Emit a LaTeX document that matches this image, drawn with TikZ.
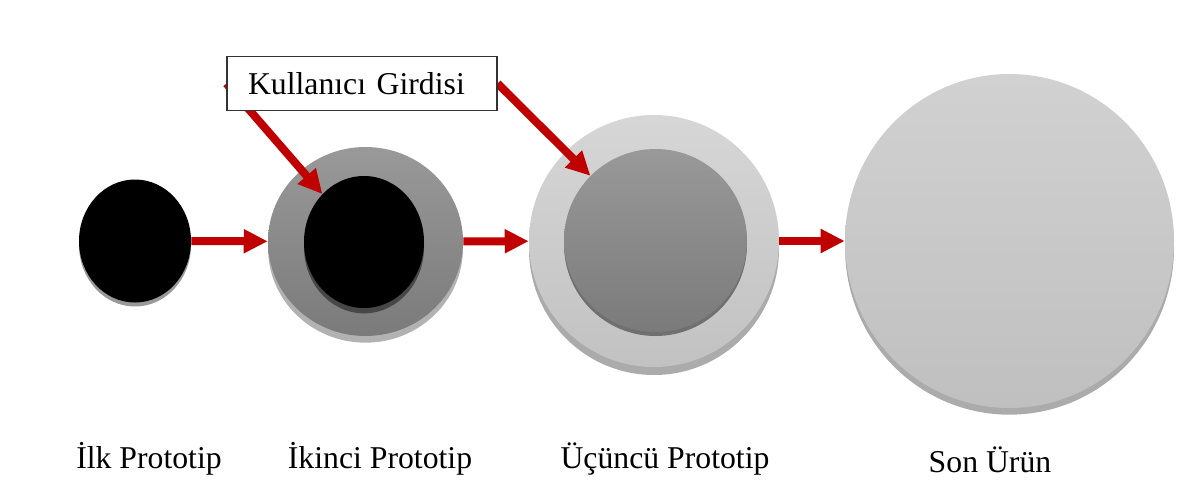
\documentclass[tikz,border=0pt]{standalone}
\usepackage{fontspec}
\setmainfont{Liberation Serif}
\usetikzlibrary{shapes.geometric,arrows.meta}

\definecolor{arrowred}{HTML}{C00000}
\pgfdeclarelayer{front}
\pgfsetlayers{main,front}

\tikzset{
  disc/.style 2 args={ellipse, inner sep=0pt, minimum width=#1*0.75pt, minimum height=#2*0.75pt},
  shadowed/.style 2 args={preaction={fill=#1, transform canvas={yshift=-#2}}},
  flow/.style={draw=arrowred, line width=6pt, -{Triangle[length=18pt,width=17pt]}},
  stagename/.style={anchor=base, font=\fontsize{23.8pt}{28pt}\selectfont},
}

\begin{document}
\begin{tikzpicture}[x=0.75pt, y=-0.75pt]
    \useasboundingbox (0,0) rectangle (1177,482);

    % First prototype
    \node (first) at (135,241) [disc={112}{123}, fill=black, shadowed={black!40}{3pt}] {};

    % Second prototype
    \node (second) at (365.5,241.5) [disc={195}{189}, top color=black!40, bottom color=black!52, shadowed={black!30}{5pt}] {};
    \node (inner2) at (364,242) [disc={120}{132}, fill=black, shadowed={black!72}{4pt}] {};

    % Third prototype
    \node (third) at (654,241) [disc={250}{252}, top color=black!16, bottom color=black!24, shadowed={black!33}{6pt}] {};
    \node (inner3) at (655.5,240.5) [disc={183}{183}, top color=black!40, bottom color=black!52, shadowed={black!56}{3pt}] {};

    % Final product
    \node (final) at (1009.5,241) [disc={329}{334}, top color=black!18, bottom color=black!25, shadowed={black!33}{5pt}] {};

    % User input box
    \begin{pgfonlayer}{front}
    \node (input) at (362,83.5) [draw=black!80, line width=0.9pt, fill=white, inner xsep=15.75pt, text width=171pt, align=left, minimum height=40pt, font=\fontsize{23.8pt}{28pt}\selectfont] {Kullanıcı Girdisi};
    \end{pgfonlayer}

    % Arrows
    % prototype to prototype
    \draw[flow] (first) -- (second);
    \draw[flow] (second) -- (third);
    \draw[flow] (third) -- (final);
    % user input into prototypes
    \draw[flow] (input.west) -- (inner2);
    \draw[flow] (input.east) -- (inner3);

    % Names
    \node (firstname) at (149,468) [stagename] {İlk Prototip};
    \node (secondname) at (380,468) [stagename] {İkinci Prototip};
    \node (thirdname) at (665,468) [stagename] {Üçüncü Prototip};
    \node (finalname) at (990,472) [stagename] {Son Ürün};

\end{tikzpicture}
\end{document}
